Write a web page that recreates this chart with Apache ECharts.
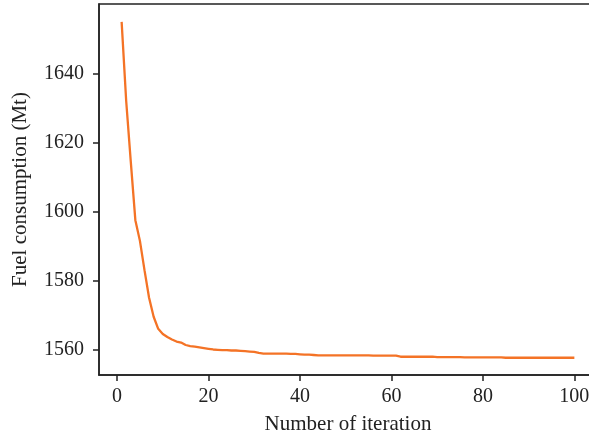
<!DOCTYPE html>
<html>
<head>
<meta charset="utf-8">
<script src="https://cdn.jsdelivr.net/npm/echarts@6/dist/echarts.min.js"></script>
<style>
    html, body { margin: 0; padding: 0; background: #fff; }
    #chartView { width: 589px; height: 439px; }
</style>
</head>
<body>
<div id="chartView"></div>
<script>
    // iteration 1..100
    var iterations = [];
    for (var i = 1; i <= 100; i++) iterations.push(i);

    var fuelValues = [
        1655.0, 1632.0, 1614.5, 1597.5, 1591.5, 1583.0, 1575.0, 1569.5, 1566.0, 1564.5,
        1563.6, 1562.9, 1562.3, 1562.0, 1561.3, 1561.0, 1560.8, 1560.6, 1560.4, 1560.2,
        1560.0, 1559.9, 1559.8, 1559.8, 1559.7, 1559.7, 1559.6, 1559.5, 1559.4, 1559.3,
        1559.0, 1558.8, 1558.8, 1558.8, 1558.8, 1558.8, 1558.8, 1558.7, 1558.7, 1558.6,
        1558.5, 1558.5, 1558.4, 1558.3, 1558.3, 1558.3, 1558.3, 1558.3, 1558.3, 1558.3,
        1558.3, 1558.3, 1558.3, 1558.3, 1558.3, 1558.2, 1558.2, 1558.2, 1558.2, 1558.2,
        1558.2, 1557.9, 1557.9, 1557.9, 1557.9, 1557.9, 1557.9, 1557.9, 1557.9, 1557.8,
        1557.8, 1557.8, 1557.8, 1557.8, 1557.8, 1557.7, 1557.7, 1557.7, 1557.7, 1557.7,
        1557.7, 1557.7, 1557.7, 1557.7, 1557.6, 1557.6, 1557.6, 1557.6, 1557.6, 1557.6,
        1557.6, 1557.6, 1557.6, 1557.6, 1557.6, 1557.6, 1557.6, 1557.6, 1557.6, 1557.6
    ];

    var xTicks = [0, 20, 40, 60, 80, 100];
    var yTicks = [1560, 1580, 1600, 1620, 1640];

    var theFont = 'Liberation Serif';
    var axisColor = '#222';

    var chartView = echarts.init(document.getElementById('chartView'));
    var option = {
        animation: false,
        grid: {
            left: 99,
            width: 498,
            top: 4,
            bottom: 64,
            show: true,
            borderColor: axisColor,
            borderWidth: 1.5,
            containLabel: false,
            outerBoundsMode: 'none'
        },
        xAxis: {
            type: 'value',
            min: -3.95,
            max: 104.95,
            name: 'Number of iteration',
            nameLocation: 'middle',
            nameGap: 39,
            nameTextStyle: { fontFamily: theFont, fontSize: 21, color: '#222' },
            axisLine: { show: true, onZero: false, lineStyle: { color: axisColor, width: 1.5 } },
            axisTick: { show: true, length: 6, customValues: xTicks, lineStyle: { color: axisColor, width: 1.5 } },
            axisLabel: { customValues: xTicks, margin: 12, fontFamily: theFont, fontSize: 20, color: '#222',
                formatter: function (v) { return String(v); } },
            splitLine: { show: false }
        },
        yAxis: {
            type: 'value',
            min: 1552.6,
            max: 1660.2,
            name: 'Fuel consumption (Mt)',
            nameLocation: 'middle',
            nameGap: 68,
            nameRotate: 90,
            nameTextStyle: { fontFamily: theFont, fontSize: 21, color: '#222' },
            axisLine: { show: true, onZero: false, lineStyle: { color: axisColor, width: 1.5 } },
            axisTick: { show: true, length: 6, customValues: yTicks, lineStyle: { color: axisColor, width: 1.5 } },
            axisLabel: { customValues: yTicks, margin: 15, fontFamily: theFont, fontSize: 20, color: '#222',
                formatter: function (v) { return String(v); } },
            splitLine: { show: false }
        },
        series: [{
            type: 'line',
            data: iterations.map(function (x, idx) { return [x, fuelValues[idx]]; }),
            symbol: 'none',
            lineStyle: { color: '#F47326', width: 2.3 },
            color: '#F47326'
        }]
    };
    chartView.setOption(option);
</script>
</body>
</html>
